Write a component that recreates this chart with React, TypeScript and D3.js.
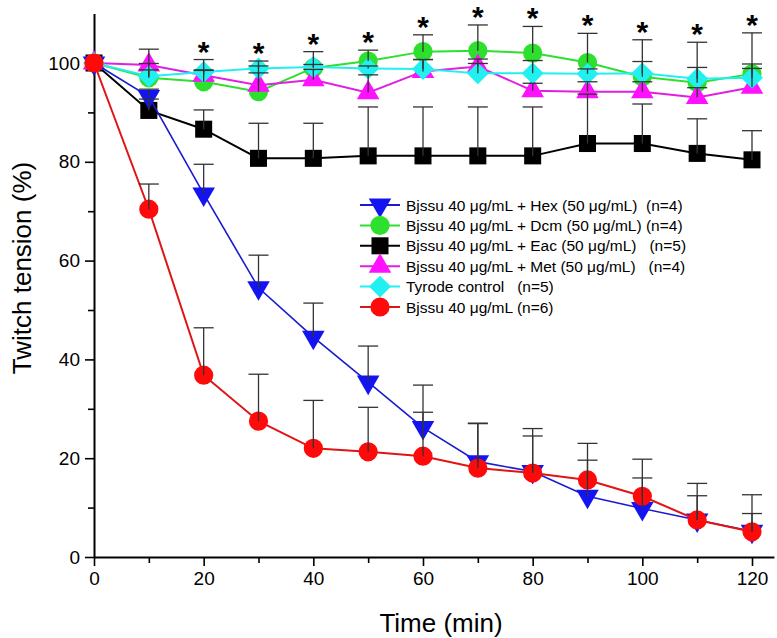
import * as d3 from 'd3'
import { useRef, useEffect } from 'react'

// time points (min)
const times = [0, 10, 20, 30, 40, 50, 60, 70, 80, 90, 100, 110, 120]

// means (%)
const hexMean = [100, 93.2, 73.5, 54.5, 44.5, 35.4, 26.2, 19.3, 17.3, 12.3, 9.8, 7.5, 5.2]
const dcmMean = [100, 97, 96.2, 94.2, 99, 100.4, 102.3, 102.5, 102, 100.1, 97.2, 96, 97.8]
const eacMean = [100, 90.4, 86.6, 80.7, 80.7, 81.2, 81.2, 81.2, 81.2, 83.7, 83.7, 81.7, 80.4]
const metMean = [100, 99.6, 97.5, 95.5, 96.6, 94, 98.3, 99.3, 94.4, 94.2, 94.2, 93, 95.1]
const tyrMean = [100, 97.3, 98.2, 98.9, 99.2, 98.9, 98.8, 97.9, 97.9, 97.8, 97.9, 96.8, 97]
const bjsMean = [100, 70.4, 36.8, 27.5, 22, 21.3, 20.4, 18, 17, 15.6, 12.3, 7.5, 5.1]

// S.E.M. (upper bars)
const hexErr = [0, 1.5, 6, 6.6, 6.9, 7.3, 8.6, 7.8, 8.7, 7.3, 6.2, 4.9, 3.6]
const dcmErr = [0, 2.9, 4.5, 6.2, 3.3, 2.2, 3.4, 5.2, 5.4, 5.9, 7.5, 8.2, 8.3]
const eacErr = [0, 2.3, 3.9, 7.1, 7.1, 9.9, 9.9, 9.9, 9.9, 10, 8, 7, 5.9]
const metErr = [0, 3.2, 1, 2.5, 2.1, 3.6, 2.4, 1.5, 1.5, 2, 2, 2, 3.8]
const tyrErr = [0, 1.3, 0.4, 0.5, 0.5, 0.5, 1.9, 2, 2.6, 1, 2.4, 2.3, 2.8]
const bjsErr = [0, 5.1, 9.6, 9.5, 9.7, 9, 8.9, 9, 7.5, 7.4, 7.5, 7.4, 7.5]

// time points marked with *
const starTimes = [20, 30, 40, 50, 60, 70, 80, 90, 100, 110, 120]

const xTicks = [0, 20, 40, 60, 80, 100, 120]
const yTicks = [0, 20, 40, 60, 80, 100]

const series = [
  { key: 'hex', label: 'Bjssu 40 μg/mL + Hex (50 μg/mL)  (n=4)', mean: hexMean, err: hexErr, color: '#1414f0', line: '#1a1ad0', shape: 'down', lw: 1.6 },
  { key: 'dcm', label: 'Bjssu 40 μg/mL + Dcm (50 μg/mL) (n=4)', mean: dcmMean, err: dcmErr, color: '#2ee02e', line: '#2ee02e', shape: 'circle', lw: 2 },
  { key: 'eac', label: 'Bjssu 40 μg/mL + Eac (50 μg/mL)   (n=5)', mean: eacMean, err: eacErr, color: '#000000', line: '#000000', shape: 'square', lw: 2 },
  { key: 'met', label: 'Bjssu 40 μg/mL + Met (50 μg/mL)   (n=4)', mean: metMean, err: metErr, color: '#ff10ff', line: '#e020e0', shape: 'up', lw: 2 },
  { key: 'tyr', label: 'Tyrode control   (n=5)', mean: tyrMean, err: tyrErr, color: '#20f0f0', line: '#20f0f0', shape: 'diamond', lw: 2 },
  { key: 'bjs', label: 'Bjssu 40 μg/mL (n=6)', mean: bjsMean, err: bjsErr, color: '#ff0a0a', line: '#e01414', shape: 'circle', lw: 2 },
]

// bottom -> top drawing order
const drawOrder = ['eac', 'dcm', 'met', 'tyr', 'hex', 'bjs']

const W = 777
const H = 638

const symbolPath = (shape: string) => {
  if (shape === 'circle') return d3.symbol(d3.symbolCircle, 290)()
  if (shape === 'square') return d3.symbol(d3.symbolSquare, 290)()
  if (shape === 'diamond') return d3.symbol(d3.symbolSquare, 240)()
  return d3.symbol(d3.symbolTriangle, 220)()
}
const symbolRot = (shape: string) => (shape === 'down' ? 180 : shape === 'diamond' ? 45 : 0)

const App = () => {
  const ref = useRef(null)

  useEffect(() => {
    const svg = d3.select(ref.current)
    svg.selectAll('*').remove()

    const x = d3.scaleLinear().domain([0, 124]).range([94, 94 + 124 * 5.4833])
    const y = d3.scaleLinear().domain([0, 110]).range([557, 557 - 110 * 4.94])

    const font = 'Liberation Sans, Arial, sans-serif'

    // axes
    const xAxis = svg.append('g').attr('transform', `translate(0, ${y(0)})`)
    xAxis
      .call(d3.axisBottom(x).tickValues(d3.range(10, 121, 20)).tickSize(6).tickFormat(() => ''))
    xAxis.select('.domain').remove()
    const xMajor = svg.append('g').attr('transform', `translate(0, ${y(0)})`)
      .call(d3.axisBottom(x).tickValues(xTicks).tickSize(9).tickPadding(6).tickSizeOuter(0))
    xMajor.select('.domain').attr('stroke-width', 2)

    const yMinor = svg.append('g').attr('transform', `translate(${x(0)}, 0)`)
      .call(d3.axisLeft(y).tickValues(d3.range(10, 110, 20)).tickSize(6).tickFormat(() => ''))
    yMinor.select('.domain').remove()
    const yMajor = svg.append('g').attr('transform', `translate(${x(0)}, 0)`)
      .call(d3.axisLeft(y).tickValues(yTicks).tickSize(9).tickPadding(5).tickSizeOuter(0))
    yMajor.select('.domain').attr('stroke-width', 2)

    svg.selectAll('.tick line').attr('stroke-width', 1.6)
    svg.selectAll('.tick text').attr('font-size', 19).attr('font-family', font).attr('fill', '#000')

    // titles
    svg.append('text')
      .attr('x', 441).attr('y', 632)
      .attr('text-anchor', 'middle')
      .attr('font-size', 26).attr('font-family', font)
      .text('Time (min)')
    svg.append('text')
      .attr('transform', `translate(31, 268) rotate(-90)`)
      .attr('text-anchor', 'middle')
      .attr('font-size', 26).attr('font-family', font)
      .text('Twitch tension (%)')

    const plot = svg.append('g')
    const ordered = drawOrder.map(k => series.find(s => s.key === k)!)

    ordered.forEach(s => {
      const pts = times.map((t, i) => ({ t, v: s.mean[i], e: s.err[i] }))
      const line = d3.line<{ t: number; v: number }>().x(d => x(d.t)).y(d => y(d.v))
      plot.append('path')
        .datum(pts)
        .attr('d', line)
        .attr('fill', 'none')
        .attr('stroke', s.line)
        .attr('stroke-width', s.lw)

      plot.append('g')
        .selectAll('path')
        .data(pts)
        .enter()
        .append('path')
        .attr('d', symbolPath(s.shape))
        .attr('transform', d => `translate(${x(d.t)}, ${y(d.v)}) rotate(${symbolRot(s.shape)})`)
        .attr('fill', s.color)
    })

    // error bars on top
    const bars = plot.append('g').attr('stroke', '#333').attr('stroke-width', 1.3)
    ordered.forEach(s => {
      times.forEach((t, i) => {
        if (!s.err[i]) return
        const top = y(s.mean[i] + s.err[i])
        bars.append('line')
          .attr('x1', x(t)).attr('x2', x(t))
          .attr('y1', y(s.mean[i])).attr('y2', top)
        bars.append('line')
          .attr('x1', x(t) - 10).attr('x2', x(t) + 10)
          .attr('y1', top).attr('y2', top)
      })
    })

    // significance stars
    plot.append('g')
      .selectAll('text')
      .data(starTimes)
      .enter()
      .append('text')
      .attr('x', t => x(t))
      .attr('y', t => {
        const i = times.indexOf(t)
        const maxTop = d3.max(series, s => s.mean[i] + s.err[i]) as number
        return y(maxTop) - 15 + 17
      })
      .attr('text-anchor', 'middle')
      .attr('font-size', 30)
      .attr('font-weight', 'bold')
      .attr('font-family', font)
      .text('*')

    // legend
    const lg = svg.append('g')
    series.forEach((s, i) => {
      const cy = 205 + i * 20.4
      lg.append('line')
        .attr('x1', 360).attr('x2', 400)
        .attr('y1', cy).attr('y2', cy)
        .attr('stroke', s.line).attr('stroke-width', 2)
      lg.append('path')
        .attr('d', symbolPath(s.shape))
        .attr('transform', `translate(380, ${cy}) rotate(${symbolRot(s.shape)})`)
        .attr('fill', s.color)
      lg.append('text')
        .attr('x', 406).attr('y', cy + 5.5)
        .attr('font-size', 15.5).attr('font-family', font)
        .attr('xml:space', 'preserve')
        .style('white-space', 'pre')
        .text(s.label)
    })
  }, [])

  return (
    <svg
      ref={ref}
      width={W}
      height={H}
      style={{ position: 'absolute', left: 0, top: 0, background: '#fff' }}
    ></svg>
  )
}

export default App
